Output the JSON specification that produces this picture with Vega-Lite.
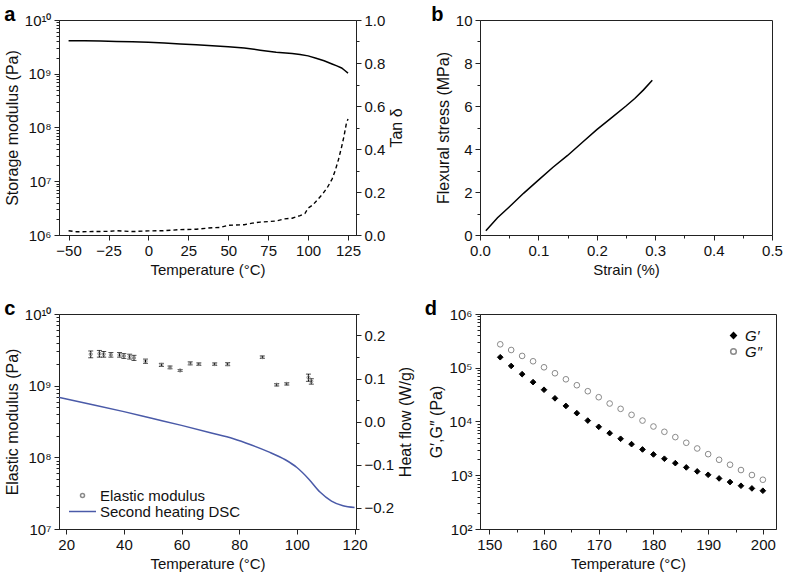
{
  "$schema": "https://vega.github.io/schema/vega-lite/v6.json",
  "padding": {"left": 3, "top": 4, "right": 0, "bottom": 0},
  "background": "white",
  "config": {
    "font": "Liberation Sans",
    "view": {"stroke": "#222", "strokeWidth": 1},
    "axis": {"grid": false, "labelFont": "Liberation Sans", "titleFont": "Liberation Sans", "labelFontSize": 15, "titleFontSize": 15, "titleFontWeight": "normal", "labelColor": "#111", "titleColor": "#111", "domainColor": "#222", "tickColor": "#222", "labelOverlap": false, "labelPadding": 3, "labelFlush": false},
    "axisY": {"titleFontSize": 16},
    "legend": {"labelFont": "Liberation Sans", "labelFontSize": 15, "labelColor": "#111"},
    "title": {"font": "Liberation Sans", "fontSize": 20, "fontWeight": "bold", "anchor": "start", "frame": "bounds", "color": "#000"}
  },
  "resolve": {
    "scale": {"color": "independent", "shape": "independent", "fill": "independent", "stroke": "independent"},
    "legend": {"color": "independent", "shape": "independent", "fill": "independent", "stroke": "independent"}
  },
  "datasets": {
    "storage": [
      {"T": -50, "E": 4.12e9}, {"T": -40, "E": 4.1e9}, {"T": -30, "E": 4.07e9}, {"T": -20, "E": 4.0e9}, {"T": -10, "E": 3.93e9}, {"T": 0, "E": 3.85e9}, {"T": 10, "E": 3.72e9}, {"T": 20, "E": 3.58e9}, {"T": 30, "E": 3.45e9}, {"T": 40, "E": 3.33e9}, {"T": 50, "E": 3.18e9}, {"T": 60, "E": 3.0e9}, {"T": 70, "E": 2.75e9}, {"T": 80, "E": 2.52e9}, {"T": 90, "E": 2.38e9}, {"T": 95, "E": 2.28e9}, {"T": 100, "E": 2.15e9}, {"T": 105, "E": 1.95e9}, {"T": 110, "E": 1.75e9}, {"T": 115, "E": 1.52e9}, {"T": 118, "E": 1.4e9}, {"T": 121, "E": 1.28e9}, {"T": 123, "E": 1.15e9}, {"T": 125, "E": 1.03e9}
    ],
    "tand": [
      {"T": -50, "tan": 0.02}, {"T": -45, "tan": 0.015}, {"T": -35, "tan": 0.016}, {"T": -25, "tan": 0.017}, {"T": -20, "tan": 0.02}, {"T": -10, "tan": 0.016}, {"T": 0, "tan": 0.019}, {"T": 10, "tan": 0.02}, {"T": 20, "tan": 0.025}, {"T": 30, "tan": 0.027}, {"T": 40, "tan": 0.034}, {"T": 45, "tan": 0.035}, {"T": 50, "tan": 0.045}, {"T": 60, "tan": 0.048}, {"T": 65, "tan": 0.055}, {"T": 70, "tan": 0.06}, {"T": 80, "tan": 0.065}, {"T": 85, "tan": 0.075}, {"T": 90, "tan": 0.078}, {"T": 95, "tan": 0.09}, {"T": 98, "tan": 0.1}, {"T": 100, "tan": 0.125}, {"T": 103, "tan": 0.14}, {"T": 106, "tan": 0.165}, {"T": 109, "tan": 0.19}, {"T": 112, "tan": 0.22}, {"T": 115, "tan": 0.26}, {"T": 117, "tan": 0.3}, {"T": 119, "tan": 0.35}, {"T": 121, "tan": 0.41}, {"T": 122.5, "tan": 0.46}, {"T": 124, "tan": 0.52}, {"T": 125, "tan": 0.54}
    ],
    "flex": [
      {"strain": 0.01, "stress": 0.2}, {"strain": 0.02, "stress": 0.5}, {"strain": 0.03, "stress": 0.8}, {"strain": 0.05, "stress": 1.3}, {"strain": 0.075, "stress": 1.95}, {"strain": 0.1, "stress": 2.55}, {"strain": 0.125, "stress": 3.15}, {"strain": 0.15, "stress": 3.7}, {"strain": 0.175, "stress": 4.3}, {"strain": 0.2, "stress": 4.9}, {"strain": 0.225, "stress": 5.45}, {"strain": 0.25, "stress": 6.0}, {"strain": 0.265, "stress": 6.35}, {"strain": 0.28, "stress": 6.75}, {"strain": 0.295, "stress": 7.2}
    ],
    "elastic": [
      {"T": 28.5, "E": 2.75e9, "lo": 2.45e9, "hi": 3.05e9, "series": "Elastic modulus"},
      {"T": 31.5, "E": 2.8e9, "lo": 2.5e9, "hi": 3.1e9, "series": "Elastic modulus"},
      {"T": 33, "E": 2.75e9, "lo": 2.5e9, "hi": 3.0e9, "series": "Elastic modulus"},
      {"T": 35.5, "E": 2.7e9, "lo": 2.5e9, "hi": 2.9e9, "series": "Elastic modulus"},
      {"T": 38.5, "E": 2.7e9, "lo": 2.5e9, "hi": 2.9e9, "series": "Elastic modulus"},
      {"T": 40, "E": 2.6e9, "lo": 2.4e9, "hi": 2.8e9, "series": "Elastic modulus"},
      {"T": 42, "E": 2.55e9, "lo": 2.35e9, "hi": 2.75e9, "series": "Elastic modulus"},
      {"T": 43.5, "E": 2.45e9, "lo": 2.25e9, "hi": 2.65e9, "series": "Elastic modulus"},
      {"T": 47.5, "E": 2.2e9, "lo": 2.05e9, "hi": 2.35e9, "series": "Elastic modulus"},
      {"T": 53, "E": 1.95e9, "lo": 1.85e9, "hi": 2.05e9, "series": "Elastic modulus"},
      {"T": 56, "E": 1.8e9, "lo": 1.72e9, "hi": 1.88e9, "series": "Elastic modulus"},
      {"T": 59.5, "E": 1.63e9, "lo": 1.58e9, "hi": 1.68e9, "series": "Elastic modulus"},
      {"T": 63, "E": 2.05e9, "lo": 1.95e9, "hi": 2.15e9, "series": "Elastic modulus"},
      {"T": 66, "E": 2.0e9, "lo": 1.92e9, "hi": 2.08e9, "series": "Elastic modulus"},
      {"T": 71.5, "E": 2.0e9, "lo": 1.92e9, "hi": 2.08e9, "series": "Elastic modulus"},
      {"T": 76, "E": 2.0e9, "lo": 1.9e9, "hi": 2.1e9, "series": "Elastic modulus"},
      {"T": 88, "E": 2.5e9, "lo": 2.4e9, "hi": 2.6e9, "series": "Elastic modulus"},
      {"T": 93, "E": 1.03e9, "lo": 0.99e9, "hi": 1.07e9, "series": "Elastic modulus"},
      {"T": 96.5, "E": 1.06e9, "lo": 1.02e9, "hi": 1.1e9, "series": "Elastic modulus"},
      {"T": 104, "E": 1.3e9, "lo": 1.15e9, "hi": 1.45e9, "series": "Elastic modulus"},
      {"T": 105, "E": 1.15e9, "lo": 1.05e9, "hi": 1.25e9, "series": "Elastic modulus"}
    ],
    "dsc": [
      {"T": 17.5, "hf": 0.056, "series": "Second heating DSC"}, {"T": 30, "hf": 0.038, "series": "Second heating DSC"}, {"T": 40, "hf": 0.023, "series": "Second heating DSC"}, {"T": 50, "hf": 0.007, "series": "Second heating DSC"}, {"T": 60, "hf": -0.009, "series": "Second heating DSC"}, {"T": 70, "hf": -0.026, "series": "Second heating DSC"}, {"T": 78, "hf": -0.04, "series": "Second heating DSC"}, {"T": 84, "hf": -0.054, "series": "Second heating DSC"}, {"T": 90, "hf": -0.07, "series": "Second heating DSC"}, {"T": 96, "hf": -0.089, "series": "Second heating DSC"}, {"T": 100, "hf": -0.107, "series": "Second heating DSC"}, {"T": 104, "hf": -0.133, "series": "Second heating DSC"}, {"T": 108, "hf": -0.164, "series": "Second heating DSC"}, {"T": 112, "hf": -0.185, "series": "Second heating DSC"}, {"T": 116, "hf": -0.196, "series": "Second heating DSC"}, {"T": 120, "hf": -0.2, "series": "Second heating DSC"}
    ],
    "gmod": [
      {"T": 152, "G": 1.57e5, "s": "G′"}, {"T": 154, "G": 1.08e5, "s": "G′"}, {"T": 156, "G": 7.6e4, "s": "G′"}, {"T": 158, "G": 5.4e4, "s": "G′"}, {"T": 160, "G": 3.9e4, "s": "G′"}, {"T": 162, "G": 2.7e4, "s": "G′"}, {"T": 164, "G": 1.95e4, "s": "G′"}, {"T": 166, "G": 1.43e4, "s": "G′"}, {"T": 168, "G": 1.04e4, "s": "G′"}, {"T": 170, "G": 7960, "s": "G′"}, {"T": 172, "G": 6070, "s": "G′"}, {"T": 174, "G": 4770, "s": "G′"}, {"T": 176, "G": 3790, "s": "G′"}, {"T": 178, "G": 3020, "s": "G′"}, {"T": 180, "G": 2440, "s": "G′"}, {"T": 182, "G": 2030, "s": "G′"}, {"T": 184, "G": 1680, "s": "G′"}, {"T": 186, "G": 1400, "s": "G′"}, {"T": 188, "G": 1180, "s": "G′"}, {"T": 190, "G": 1020, "s": "G′"}, {"T": 192, "G": 873, "s": "G′"}, {"T": 194, "G": 747, "s": "G′"}, {"T": 196, "G": 638, "s": "G′"}, {"T": 198, "G": 569, "s": "G′"}, {"T": 200, "G": 515, "s": "G′"},
      {"T": 152, "G": 2.73e5, "s": "G″"}, {"T": 154, "G": 2.14e5, "s": "G″"}, {"T": 156, "G": 1.66e5, "s": "G″"}, {"T": 158, "G": 1.32e5, "s": "G″"}, {"T": 160, "G": 1.02e5, "s": "G″"}, {"T": 162, "G": 7.9e4, "s": "G″"}, {"T": 164, "G": 6.1e4, "s": "G″"}, {"T": 166, "G": 4.73e4, "s": "G″"}, {"T": 168, "G": 3.66e4, "s": "G″"}, {"T": 170, "G": 2.83e4, "s": "G″"}, {"T": 172, "G": 2.16e4, "s": "G″"}, {"T": 174, "G": 1.72e4, "s": "G″"}, {"T": 176, "G": 1.33e4, "s": "G″"}, {"T": 178, "G": 1.04e4, "s": "G″"}, {"T": 180, "G": 8070, "s": "G″"}, {"T": 182, "G": 6430, "s": "G″"}, {"T": 184, "G": 5120, "s": "G″"}, {"T": 186, "G": 4020, "s": "G″"}, {"T": 188, "G": 3150, "s": "G″"}, {"T": 190, "G": 2470, "s": "G″"}, {"T": 192, "G": 1940, "s": "G″"}, {"T": 194, "G": 1570, "s": "G″"}, {"T": 196, "G": 1250, "s": "G″"}, {"T": 198, "G": 1010, "s": "G″"}, {"T": 200, "G": 825, "s": "G″"}
    ]
  },
  "columns": 2,
  "spacing": {"column": 9, "row": 20},
  "concat": [
    {
      "title": {"text": "a", "offset": -12},
      "width": 297, "height": 215,
      "layer": [
        {
          "data": {"name": "storage"},
          "mark": {"type": "line", "color": "#000", "strokeWidth": 1.5},
          "encoding": {
            "x": {"field": "T", "type": "quantitative", "scale": {"domain": [-56, 130], "nice": false, "zero": false},
              "axis": {"title": "Temperature (°C)", "values": [-50, -37.5, -25, -12.5, 0, 12.5, 25, 37.5, 50, 62.5, 75, 87.5, 100, 112.5, 125], "labelExpr": "datum.value % 25 == 0 ? datum.label : ''", "tickSize": {"condition": {"test": "datum.value % 25 == 0", "value": 5}, "value": 3}}},
            "y": {"field": "E", "type": "quantitative", "scale": {"type": "log", "domain": [1e6, 1e10], "nice": false},
              "axis": {"title": "Storage modulus (Pa)", "values": [1e6, 2e6, 3e6, 4e6, 5e6, 6e6, 7e6, 8e6, 9e6, 1e7, 2e7, 3e7, 4e7, 5e7, 6e7, 7e7, 8e7, 9e7, 1e8, 2e8, 3e8, 4e8, 5e8, 6e8, 7e8, 8e8, 9e8, 1e9, 2e9, 3e9, 4e9, 5e9, 6e9, 7e9, 8e9, 9e9, 1e10],
                "labelExpr": "datum.value==1e6?'10⁶':datum.value==1e7?'10⁷':datum.value==1e8?'10⁸':datum.value==1e9?'10⁹':datum.value==1e10?'10¹⁰':''",
                "tickSize": {"condition": {"test": "abs(log(datum.value)/LN10 - round(log(datum.value)/LN10)) < 1e-6", "value": 5}, "value": 3}}}
          }
        },
        {
          "data": {"name": "tand"},
          "mark": {"type": "line", "color": "#000", "strokeWidth": 1.4, "strokeDash": [4, 3]},
          "encoding": {
            "x": {"field": "T", "type": "quantitative"},
            "y": {"field": "tan", "type": "quantitative", "scale": {"domain": [0, 1], "nice": false},
              "axis": {"orient": "right", "title": "Tan δ", "titleAngle": -90, "titleBaseline": "top", "values": [0, 0.1, 0.2, 0.3, 0.4, 0.5, 0.6, 0.7, 0.8, 0.9, 1.0], "labelExpr": "round(datum.value*10)%2==0 ? format(datum.value, '.1f') : ''", "tickSize": {"condition": {"test": "round(datum.value*10)%2==0", "value": 5}, "value": 3}}}
          }
        }
      ],
      "resolve": {"scale": {"y": "independent"}}
    },
    {
      "title": {"text": "b", "offset": -12, "dx": -4},
      "width": 292, "height": 215,
      "data": {"name": "flex"},
      "mark": {"type": "line", "color": "#000", "strokeWidth": 1.5},
      "encoding": {
        "x": {"field": "strain", "type": "quantitative", "scale": {"domain": [0, 0.5], "nice": false},
          "axis": {"title": "Strain (%)", "values": [0, 0.05, 0.1, 0.15, 0.2, 0.25, 0.3, 0.35, 0.4, 0.45, 0.5], "labelExpr": "round(datum.value*20)%2==0 ? format(datum.value, '.1f') : ''", "tickSize": {"condition": {"test": "round(datum.value*20)%2==0", "value": 5}, "value": 3}}},
        "y": {"field": "stress", "type": "quantitative", "scale": {"domain": [0, 10], "nice": false},
          "axis": {"title": "Flexural stress (MPa)", "values": [0, 1, 2, 3, 4, 5, 6, 7, 8, 9, 10], "labelExpr": "datum.value%2==0 ? datum.label : ''", "tickSize": {"condition": {"test": "datum.value%2==0", "value": 5}, "value": 3}}}
      }
    },
    {
      "title": {"text": "c", "offset": -12},
      "width": 297, "height": 215,
      "layer": [
        {
          "layer": [
            {
              "data": {"name": "elastic"},
              "mark": {"type": "errorbar", "ticks": {"size": 5, "thickness": 1}, "color": "#000", "thickness": 1},
              "encoding": {
                "x": {"field": "T", "type": "quantitative", "scale": {"domain": [17.5, 120.5], "nice": false, "zero": false},
                  "axis": {"title": "Temperature (°C)", "values": [20, 25, 30, 35, 40, 45, 50, 55, 60, 65, 70, 75, 80, 85, 90, 95, 100, 105, 110, 115, 120], "labelExpr": "datum.value % 10 == 0 ? datum.label : ''", "tickSize": {"condition": {"test": "datum.value % 10 == 0", "value": 5}, "value": 3}}},
                "y": {"field": "lo", "type": "quantitative", "scale": {"type": "log", "domain": [1e7, 1e10], "nice": false},
                  "axis": {"title": "Elastic modulus (Pa)", "values": [1e7, 2e7, 3e7, 4e7, 5e7, 6e7, 7e7, 8e7, 9e7, 1e8, 2e8, 3e8, 4e8, 5e8, 6e8, 7e8, 8e8, 9e8, 1e9, 2e9, 3e9, 4e9, 5e9, 6e9, 7e9, 8e9, 9e9, 1e10],
                    "labelExpr": "datum.value==1e7?'10⁷':datum.value==1e8?'10⁸':datum.value==1e9?'10⁹':datum.value==1e10?'10¹⁰':''",
                    "tickSize": {"condition": {"test": "abs(log(datum.value)/LN10 - round(log(datum.value)/LN10)) < 1e-6", "value": 5}, "value": 3}}},
                "y2": {"field": "hi"}
              }
            },
            {
              "data": {"name": "elastic"},
              "mark": {"type": "point", "filled": false, "size": 10, "strokeWidth": 1, "opacity": 1},
              "encoding": {
                "x": {"field": "T", "type": "quantitative"},
                "y": {"field": "E", "type": "quantitative"},
                "color": {"field": "series", "type": "nominal", "scale": {"domain": ["Elastic modulus", "Second heating DSC"], "range": ["#8a8a8a", "#4a5aa8"]},
                  "legend": {"title": null, "orient": "bottom-left", "offset": 9, "symbolOffset": 7, "symbolSize": 16, "symbolStrokeWidth": 1.5, "labelFontSize": 15, "rowPadding": -3, "labelOffset": 10}},
                "shape": {"field": "series", "type": "nominal", "scale": {"domain": ["Elastic modulus", "Second heating DSC"], "range": ["circle", "M-6.75,0H6.75"]},
                  "legend": {"title": null, "orient": "bottom-left", "offset": 9, "symbolOffset": 7, "symbolSize": 16, "symbolStrokeWidth": 1.5, "labelFontSize": 15, "rowPadding": -3, "labelOffset": 10}}
              }
            }
          ]
        },
        {
          "data": {"name": "dsc"},
          "mark": {"type": "line", "strokeWidth": 1.5, "interpolate": "monotone"},
          "encoding": {
            "x": {"field": "T", "type": "quantitative"},
            "y": {"field": "hf", "type": "quantitative", "scale": {"domain": [-0.25, 0.25], "nice": false, "zero": false},
              "axis": {"orient": "right", "title": "Heat flow (W/g)", "titleAngle": -90, "titleBaseline": "top", "values": [-0.25, -0.2, -0.15, -0.1, -0.05, 0, 0.05, 0.1, 0.15, 0.2, 0.25], "labelExpr": "abs(round(datum.value*20))%2==0 && abs(datum.value) < 0.24 ? format(datum.value, '.1f') : ''", "tickSize": {"condition": {"test": "abs(round(datum.value*20))%2==0", "value": 5}, "value": 3}}},
            "color": {"field": "series", "type": "nominal"}
          }
        }
      ],
      "resolve": {"scale": {"y": "independent"}}
    },
    {
      "title": {"text": "d", "offset": -12, "dx": -4},
      "width": 296, "height": 215,
      "data": {"name": "gmod"},
      "mark": {"type": "point", "size": 32, "strokeWidth": 1, "opacity": 1},
      "encoding": {
        "x": {"field": "T", "type": "quantitative", "scale": {"domain": [148.3, 202.4], "nice": false, "zero": false},
          "axis": {"title": "Temperature (°C)", "values": [150, 155, 160, 165, 170, 175, 180, 185, 190, 195, 200], "labelExpr": "datum.value % 10 == 0 ? datum.label : ''", "tickSize": {"condition": {"test": "datum.value % 10 == 0", "value": 5}, "value": 3}}},
        "y": {"field": "G", "type": "quantitative", "scale": {"type": "log", "domain": [100, 1e6], "nice": false},
          "axis": {"title": "G′,G″ (Pa)", "values": [100, 200, 300, 400, 500, 600, 700, 800, 900, 1e3, 2e3, 3e3, 4e3, 5e3, 6e3, 7e3, 8e3, 9e3, 1e4, 2e4, 3e4, 4e4, 5e4, 6e4, 7e4, 8e4, 9e4, 1e5, 2e5, 3e5, 4e5, 5e5, 6e5, 7e5, 8e5, 9e5, 1e6],
            "labelExpr": "datum.value==100?'10²':datum.value==1e3?'10³':datum.value==1e4?'10⁴':datum.value==1e5?'10⁵':datum.value==1e6?'10⁶':''",
            "tickSize": {"condition": {"test": "abs(log(datum.value)/LN10 - round(log(datum.value)/LN10)) < 1e-6", "value": 5}, "value": 3}}},
        "shape": {"field": "s", "type": "nominal", "scale": {"domain": ["G′", "G″"], "range": ["diamond", "circle"]},
          "legend": {"title": null, "orient": "top-right", "offset": 14, "symbolSize": 32, "labelFontStyle": "italic", "labelFontSize": 15, "rowPadding": -1}},
        "fill": {"field": "s", "type": "nominal", "scale": {"domain": ["G′", "G″"], "range": ["#000", "transparent"]},
          "legend": {"title": null, "orient": "top-right", "offset": 14, "symbolSize": 32, "labelFontStyle": "italic", "labelFontSize": 15, "rowPadding": -1}},
        "stroke": {"field": "s", "type": "nominal", "scale": {"domain": ["G′", "G″"], "range": ["#000", "#8a8a8a"]},
          "legend": {"title": null, "orient": "top-right", "offset": 14, "symbolSize": 32, "labelFontStyle": "italic", "labelFontSize": 15, "rowPadding": -1}}
      }
    }
  ]
}
